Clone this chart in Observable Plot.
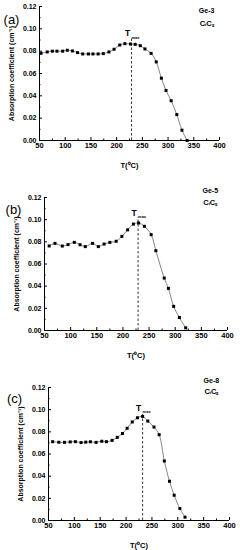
<!DOCTYPE html>
<html><head><meta charset="utf-8">
<script src="https://cdn.jsdelivr.net/npm/d3@7"></script>
<script src="https://cdn.jsdelivr.net/npm/@observablehq/plot@0.6"></script>
<style>
body{margin:0;background:#fff;width:240px;height:550px;overflow:hidden;font-family:"Liberation Sans",Arial,sans-serif}
#chart svg{display:block}
</style></head><body><div id="chart"></div>
<script>
// Panel (a) Ge-3
const tempA = [53,65,75,84,95,104,114,124,134,145,154,164,174,185,195,206,216,227,236,246,255,267,277,287,296,306,317,327,337];
const absA = [0.0781,0.0793,0.0800,0.0800,0.0800,0.0808,0.0802,0.0787,0.0775,0.0775,0.0775,0.0775,0.0778,0.0793,0.0817,0.0855,0.0867,0.0864,0.0861,0.0849,0.0820,0.0780,0.0704,0.0558,0.0448,0.0356,0.0232,0.0092,0.0000];
// Panel (b) Ge-5
const tempB = [59,70,84,95,107,118,128,142,153,164,175,187,198,209,220,230,241,254,263,279,287,297,308,320];
const absB = [0.0763,0.0786,0.0762,0.0775,0.0795,0.0774,0.0757,0.0786,0.0757,0.0780,0.0795,0.0805,0.0849,0.0908,0.0960,0.0970,0.0940,0.0865,0.0720,0.0473,0.0380,0.0218,0.0117,0.0024];
// Panel (c) Ge-8
const tempC = [58,70,81,92,102,113,122,131,142,153,162,173,183,193,202,212,222,232,242,254,264,274,284,293,304,314];
const absC = [0.0711,0.0706,0.0705,0.0709,0.0711,0.0703,0.0707,0.0710,0.0705,0.0715,0.0711,0.0723,0.0750,0.0785,0.0832,0.0889,0.0927,0.0939,0.0897,0.0843,0.0774,0.0537,0.0354,0.0228,0.0108,0.0030];

const tmaxValues = [229, 229, 232];
const panelTags = ["(a)", "(b)", "(c)"];
const sampleNames = ["Ge-3", "Ge-5", "Ge-8"];
const defectLabel = "C\u1D62C\u209B";
const xTicks = [50,100,150,200,250,300,350,400];
const yTicks = [0,0.02,0.04,0.06,0.08,0.10,0.12];
const xLabel = "T(\u2070C)";
const yLabel = "Absorption coefficient (cm\u207B\u00B9)";

function panel(temp, abs, i, L) {
  const data = temp.map((t, k) => ({t, a: abs[k]}));
  const tmax = tmaxValues[i];
  return Plot.plot({
    width: 240, height: L.height,
    marginLeft: L.ml, marginRight: L.mr, marginTop: L.mt, marginBottom: L.mb,
    style: {fontFamily: "Liberation Sans, Arial, sans-serif", fontSize: "7.5px", fontWeight: "bold", color: "#000", background: "#fff"},
    x: {domain: [50, 400]},
    y: {domain: [0, 0.12]},
    marks: [
      Plot.axisX(xTicks, {tickSize: -3, tickPadding: 5, label: xLabel, labelAnchor: "center", labelOffset: 27, labelArrow: "none", fontSize: 7.5}),
      Plot.axisX(d3.range(75, 400, 50), {tickSize: -1.5, text: null, label: null}),
      Plot.axisY(yTicks, {tickSize: -3, tickPadding: 6, tickFormat: ".2f", label: yLabel, labelAnchor: "center", labelOffset: 30, labelArrow: "none", fontSize: 7}),
      Plot.axisY(d3.range(0.01, 0.12, 0.02), {tickSize: -1.5, text: null, label: null}),
      Plot.ruleY([0], {stroke: "#000", strokeWidth: 1}),
      Plot.ruleX([50], {stroke: "#000", strokeWidth: 1}),
      Plot.ruleX([tmax], {y1: 0, y2: L.ruleTop, stroke: "#000", strokeWidth: 0.8, strokeDasharray: "2.5,2"}),
      Plot.line(data, {x: "t", y: "a", curve: "catmull-rom", stroke: "#666", strokeWidth: 0.8}),
      Plot.dot(data, {x: "t", y: "a", symbol: "square", r: 1.7, fill: "#000", stroke: null}),
      Plot.text(["T"], {x: tmax, y: L.tY, dx: -4, textAnchor: "middle", fontSize: 8.5, fontWeight: "bold"}),
      Plot.text(["max"], {x: tmax, y: L.tY, dx: 0, dy: 3.5, textAnchor: "start", fontSize: 4, fontWeight: "bold"}),
      Plot.text([sampleNames[i]], {x: L.gX, y: L.gY, fontSize: 7, fontWeight: "bold"}),
      Plot.text([defectLabel], {x: L.gX, y: L.cY, fontSize: 7.5, fontWeight: "bold"}),
      Plot.text([panelTags[i]], {frameAnchor: "top-left", dx: L.tagDx, dy: L.tagDy, fontSize: 13, fontWeight: "normal", textAnchor: "middle"})
    ]
  });
}

const chart = document.getElementById("chart");
chart.append(panel(tempA, absA, 0, {height: 180, ml: 39, mr: 21, mt: 6, mb: 40, ruleTop: 0.092, tY: 0.0956, gX: 375, gY: 0.1164, cY: 0.1048, tagDx: -28, tagDy: 8}));
chart.append(panel(tempB, absB, 1, {height: 180, ml: 44, mr: 13, mt: 17, mb: 30, ruleTop: 0.102, tY: 0.1062, gX: 367, gY: 0.1263, cY: 0.1157, tagDx: -31, tagDy: 7}));
chart.append(panel(tempC, absC, 2, {height: 190, ml: 48, mr: 11, mt: 27, mb: 30, ruleTop: 0.097, tY: 0.1013, gX: 365, gY: 0.1263, cY: 0.1164, tagDx: -34, tagDy: 6}));
</script></body></html>
